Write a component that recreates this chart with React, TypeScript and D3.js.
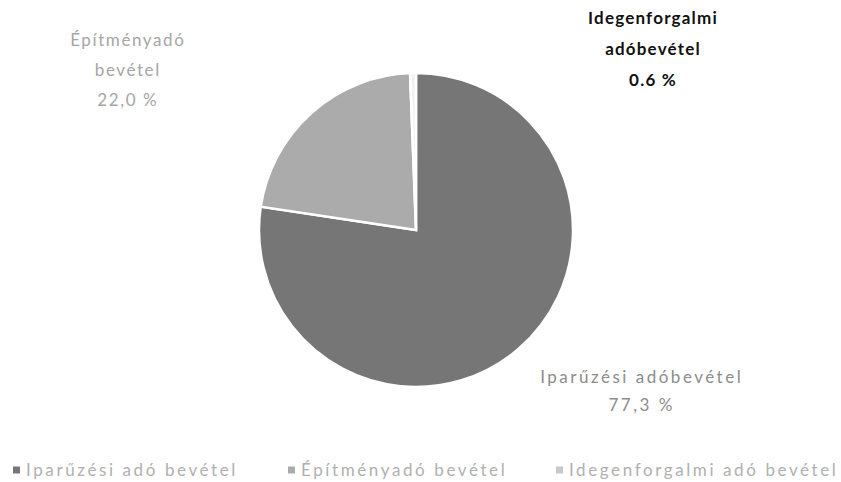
import * as d3 from 'd3';
import { useEffect, useRef } from 'react';

// Chart data
const categories = ['Iparűzési adóbevétel', 'Építményadó bevétel', 'Idegenforgalmi adóbevétel'];
const values = [77.3, 22.0, 0.6];
const legendLabels = ['Iparűzési adó bevétel', 'Építményadó bevétel', 'Idegenforgalmi adó bevétel'];
const sliceLabels = [
  ['Iparűzési adóbevétel', '77,3 %'],
  ['Építményadó', 'bevétel', '22,0 %'],
  ['Idegenforgalmi', 'adóbevétel', '0.6 %'],
];

const colors = ['#767676', '#ababab', '#f2f2f2'];
const labelColors = ['#8c8c8c', '#a6a6a6', '#111111'];
const labelWeights = [400, 400, 700];
const labelSpacing = [2.5, 1.6, 1.2];
const labelLineHeight = [28, 30, 31];
// label anchor points (fraction of width / height)
const labelAnchors = [
  [0.763, 0.782],
  [0.152, 0.083],
  [0.7765, 0.0373],
];

export default function App() {
  const ref = useRef<SVGSVGElement>(null);

  const width = 841;
  const height = 482;
  const cx = 416;
  const cy = 230;
  const radius = 157;

  useEffect(() => {
    const svg = d3.select(ref.current);
    svg.selectAll('*').remove();

    const data = categories.map((c, i) => ({ name: c, value: values[i] }));
    const pie = d3
      .pie<{ name: string; value: number }>()
      .sort(null)
      .value((d) => d.value);
    const arc = d3
      .arc<d3.PieArcDatum<{ name: string; value: number }>>()
      .innerRadius(0)
      .outerRadius(radius);

    const g = svg.append('g').attr('transform', `translate(${cx},${cy})`);
    g.selectAll('path')
      .data(pie(data))
      .enter()
      .append('path')
      .attr('d', arc)
      .attr('fill', (d, i) => colors[i])
      .attr('stroke', '#fff')
      .attr('stroke-width', 2.5);

    // slice labels
    sliceLabels.forEach((lines, i) => {
      const t = svg
        .append('text')
        .attr('text-anchor', 'middle')
        .attr('font-family', 'Lato, sans-serif')
        .attr('font-size', 17)
        .attr('font-weight', labelWeights[i])
        .attr('letter-spacing', labelSpacing[i])
        .attr('fill', labelColors[i]);
      lines.forEach((line, j) => {
        t.append('tspan')
          .attr('x', labelAnchors[i][0] * width)
          .attr('y', labelAnchors[i][1] * height + j * labelLineHeight[i])
          .attr('dy', '0.35em')
          .text(line);
      });
    });

    // legend
    const legendX = d3.scaleOrdinal<string, number>().domain(legendLabels).range([13, 288, 556]);
    const legend = svg
      .selectAll('g.legend')
      .data(legendLabels)
      .enter()
      .append('g')
      .attr('class', 'legend')
      .attr('transform', (d) => `translate(${legendX(d)}, 470)`);
    legend
      .append('rect')
      .attr('x', 0)
      .attr('y', -3.5)
      .attr('width', 7)
      .attr('height', 7)
      .attr('fill', (d, i) => (i === 2 ? '#c8c8c8' : colors[i]));
    legend
      .append('text')
      .attr('x', 13)
      .attr('dy', '0.35em')
      .attr('font-family', 'Lato, sans-serif')
      .attr('font-size', 17)
      .attr('letter-spacing', 2.6)
      .attr('fill', '#b0b0b0')
      .text((d) => d);
  }, []);

  return (
    <svg
      ref={ref}
      width={width}
      height={height}
      style={{ position: 'absolute', left: 0, top: 0, background: '#fff' }}
    />
  );
}
